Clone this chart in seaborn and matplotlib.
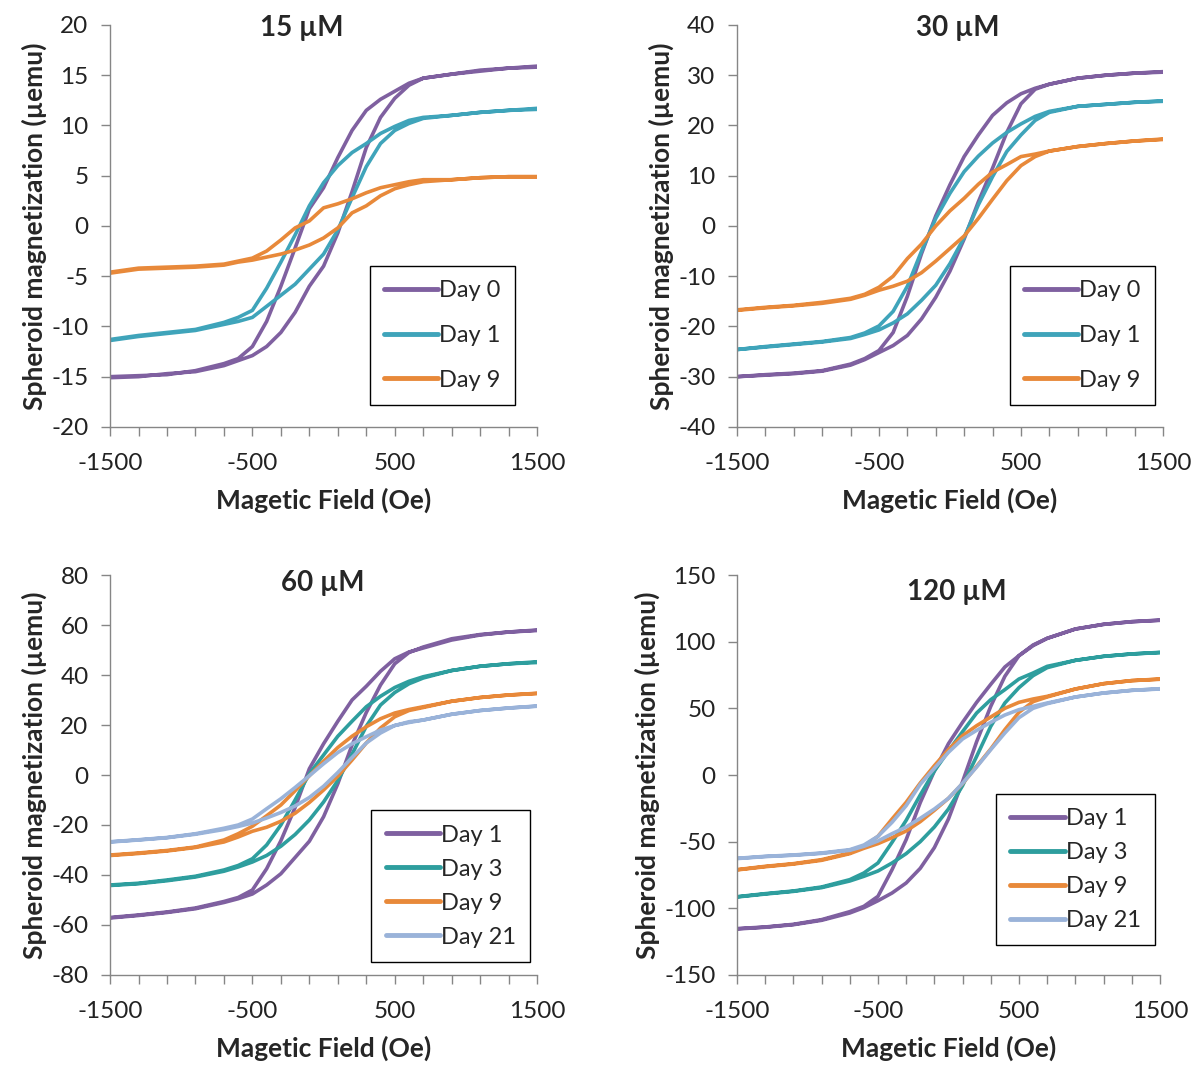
import numpy as np
import pandas as pd
import matplotlib.pyplot as plt
import seaborn as sns

# -------------------------------
# Data (read off the reference loops)
# lower = field sweeping up, upper = field sweeping down
# -------------------------------
field = [-1500, -1300, -1100, -900, -700, -600, -500, -400, -300, -200, -100, 0,
         100, 200, 300, 400, 500, 600, 700, 900, 1100, 1300, 1500]
x_labels = [-1500, -500, 500, 1500]

# 15 uM
days_15 = ["Day 0", "Day 1", "Day 9"]
c15_d0_lower = [-15.1, -15.0, -14.7, -14.5, -13.9, -13.4, -12.9, -12.0, -10.6, -8.6, -6.0, -4.0,
                -0.7, 3.4, 7.8, 10.8, 12.7, 14.0, 14.7, 15.1, 15.5, 15.7, 15.8]
c15_d0_upper = [-15.0, -14.9, -14.8, -14.4, -13.7, -13.2, -12.0, -9.5, -6.0, -2.2, 1.7, 3.8,
                6.8, 9.5, 11.5, 12.6, 13.4, 14.2, 14.7, 15.1, 15.4, 15.7, 15.9]
c15_d1_lower = [-11.4, -11.0, -10.7, -10.4, -9.8, -9.5, -9.1, -8.0, -6.9, -5.8, -4.3, -2.8,
                -0.4, 2.8, 5.9, 8.2, 9.5, 10.2, 10.7, 11.0, 11.3, 11.5, 11.6]
c15_d1_upper = [-11.3, -10.9, -10.6, -10.3, -9.6, -9.1, -8.4, -6.2, -3.6, -0.9, 2.0, 4.3,
                6.0, 7.3, 8.2, 9.2, 9.9, 10.5, 10.8, 11.0, 11.3, 11.5, 11.7]
c15_d9_lower = [-4.7, -4.3, -4.2, -4.1, -3.9, -3.6, -3.4, -3.1, -2.8, -2.4, -1.9, -1.2,
                -0.2, 1.3, 2.0, 3.0, 3.7, 4.1, 4.4, 4.6, 4.8, 4.9, 4.9]
c15_d9_upper = [-4.6, -4.2, -4.1, -4.0, -3.8, -3.5, -3.2, -2.5, -1.4, -0.2, 0.5, 1.8,
                2.2, 2.7, 3.3, 3.8, 4.1, 4.4, 4.6, 4.6, 4.8, 4.9, 4.9]

# 30 uM
days_30 = ["Day 0", "Day 1", "Day 9"]
c30_d0_lower = [-30.0, -29.7, -29.4, -28.9, -27.7, -26.6, -25.2, -23.8, -21.8, -18.5, -14.2, -9.0,
                -2.6, 4.8, 11.5, 18.6, 24.3, 27.2, 28.2, 29.4, 30.0, 30.4, 30.6]
c30_d0_upper = [-30.0, -29.6, -29.3, -28.8, -27.5, -26.4, -24.8, -21.2, -14.0, -5.5, 2.0, 8.2,
                13.8, 18.1, 22.0, 24.5, 26.3, 27.4, 28.2, 29.4, 30.0, 30.4, 30.7]
c30_d1_lower = [-24.6, -24.1, -23.6, -23.1, -22.4, -21.6, -20.7, -19.3, -17.5, -14.8, -11.8, -7.5,
                -2.3, 4.2, 9.8, 14.8, 18.1, 21.0, 22.6, 23.8, 24.2, 24.6, 24.8]
c30_d1_upper = [-24.6, -24.0, -23.5, -23.0, -22.2, -21.3, -19.9, -17.0, -12.0, -5.0, 1.5, 6.5,
                10.8, 13.9, 16.5, 18.6, 20.3, 21.8, 22.8, 23.8, 24.2, 24.6, 24.9]
c30_d9_lower = [-16.8, -16.3, -15.9, -15.4, -14.6, -13.8, -12.8, -12.0, -11.0, -9.3, -7.0, -4.5,
                -2.0, 1.5, 5.3, 9.0, 12.0, 13.8, 14.9, 15.8, 16.4, 16.9, 17.2]
c30_d9_upper = [-16.7, -16.2, -15.8, -15.2, -14.4, -13.6, -12.2, -10.0, -6.5, -3.6, 0.0, 3.0,
                5.5, 8.3, 10.7, 12.2, 13.8, 14.3, 14.9, 15.8, 16.4, 16.9, 17.3]

# 60 uM
days_60 = ["Day 1", "Day 3", "Day 9", "Day 21"]
c60_d1_lower = [-57.2, -56.2, -55.0, -53.5, -51.0, -49.5, -47.6, -44.0, -39.5, -33.0, -26.5, -16.7,
                -3.5, 12.0, 25.0, 36.0, 44.5, 49.0, 51.2, 54.5, 56.2, 57.2, 57.8]
c60_d1_upper = [-57.0, -56.0, -54.8, -53.2, -50.6, -49.0, -46.0, -37.5, -26.3, -13.0, 2.5, 12.5,
                21.5, 30.0, 35.5, 41.5, 46.5, 49.2, 50.8, 54.0, 56.0, 57.2, 58.0]
c60_d3_lower = [-44.2, -43.5, -42.3, -40.8, -38.5, -36.8, -34.8, -32.2, -28.5, -23.8, -18.0, -10.8,
                -2.2, 8.3, 19.5, 28.0, 33.0, 36.5, 38.8, 41.8, 43.5, 44.5, 45.0]
c60_d3_upper = [-44.0, -43.3, -42.0, -40.5, -38.0, -36.2, -33.5, -28.0, -20.0, -10.0, 0.5, 8.0,
                15.5, 21.5, 27.3, 31.5, 35.0, 37.5, 39.3, 41.8, 43.5, 44.5, 45.3]
c60_d9_lower = [-32.2, -31.4, -30.4, -29.0, -26.8, -24.8, -22.5, -20.9, -18.5, -15.3, -11.0, -6.0,
                -0.5, 6.0, 12.8, 18.8, 23.3, 25.8, 27.0, 29.5, 31.0, 32.0, 32.6]
c60_d9_upper = [-32.0, -31.2, -30.2, -28.8, -26.0, -23.5, -20.5, -16.3, -12.0, -6.3, -0.3, 5.5,
                11.0, 15.5, 19.3, 22.5, 24.8, 26.2, 27.3, 29.5, 31.0, 32.0, 32.7]
c60_d21_lower = [-26.8, -26.0, -25.1, -23.7, -21.8, -20.6, -19.2, -17.2, -15.0, -12.4, -9.0, -4.5,
                 1.0, 7.0, 12.8, 16.8, 19.8, 21.3, 22.0, 24.3, 25.8, 26.8, 27.5]
c60_d21_upper = [-26.7, -25.9, -25.0, -23.5, -21.3, -20.0, -17.6, -13.5, -9.5, -5.0, -0.3, 4.5,
                 9.0, 12.5, 15.3, 18.0, 19.8, 21.0, 22.0, 24.3, 25.8, 26.8, 27.6]

# 120 uM
days_120 = ["Day 1", "Day 3", "Day 9", "Day 21"]
c120_d1_lower = [-115.5, -114.2, -112.3, -109.0, -103.5, -99.5, -94.3, -88.5, -81.0, -70.0, -54.5, -33.0,
                 -5.0, 25.0, 51.5, 74.0, 89.5, 97.5, 102.5, 109.5, 113.0, 115.0, 116.0]
c120_d1_upper = [-115.2, -114.0, -112.0, -108.5, -102.5, -98.5, -91.0, -71.0, -48.5, -20.7, 3.0, 23.5,
                 39.5, 54.5, 68.0, 81.0, 89.5, 97.0, 102.5, 109.5, 113.0, 115.0, 116.2]
c120_d3_lower = [-91.5, -89.3, -87.3, -84.5, -79.5, -76.0, -72.0, -66.0, -59.0, -50.0, -39.0, -25.5,
                 -8.0, 14.0, 36.5, 54.0, 65.5, 74.5, 80.5, 86.0, 89.0, 90.8, 91.8]
c120_d3_upper = [-91.3, -89.0, -87.0, -84.0, -78.5, -73.5, -66.0, -50.5, -34.0, -15.0, 3.0, 18.0,
                 32.5, 46.5, 56.5, 64.0, 72.0, 76.5, 81.5, 86.0, 89.0, 90.8, 92.0]
c120_d9_lower = [-71.2, -68.8, -66.8, -64.0, -59.0, -55.0, -51.5, -47.0, -42.0, -35.0, -26.5, -17.5,
                 -6.5, 6.5, 19.5, 34.0, 47.0, 55.0, 58.5, 64.5, 68.5, 70.8, 71.8]
c120_d9_upper = [-71.0, -68.5, -66.5, -63.5, -58.5, -53.5, -46.0, -33.0, -20.5, -6.0, 7.0, 19.0,
                 29.5, 37.0, 43.5, 50.0, 54.5, 57.0, 59.0, 64.5, 68.5, 70.8, 72.0]
c120_d21_lower = [-62.7, -61.2, -60.2, -58.8, -56.5, -53.5, -49.5, -44.0, -39.0, -32.5, -25.5, -17.5,
                  -6.2, 6.0, 19.0, 31.5, 43.0, 50.0, 53.5, 58.5, 61.5, 63.5, 64.5]
c120_d21_upper = [-62.5, -61.0, -60.0, -58.5, -56.0, -52.5, -46.0, -35.5, -23.0, -7.0, 5.0, 17.0,
                  27.0, 33.5, 39.5, 45.0, 49.0, 51.5, 54.0, 58.5, 61.5, 63.5, 64.7]

# -------------------------------
# Style
# -------------------------------
purple = "#7F60A0"
cyan = "#3FA4BA"
teal = "#2E9E9E"
orange = "#E8893A"
lightblue = "#9AB3D9"

sns.set_theme(style="white")
plt.rcParams["font.family"] = ["Lato", "DejaVu Sans"]
plt.rcParams["axes.unicode_minus"] = False
axis_grey = "#868686"


def loop_frame(days, lowers, uppers):
    parts = []
    for day, lo, up in zip(days, lowers, uppers):
        parts.append(pd.DataFrame({
            "field": field + field[::-1],
            "moment": lo + up[::-1],
            "day": day,
        }))
    return pd.concat(parts, ignore_index=True)


panels = [
    dict(title="15 µM", days=days_15, colors=[purple, cyan, orange],
         lowers=[c15_d0_lower, c15_d1_lower, c15_d9_lower],
         uppers=[c15_d0_upper, c15_d1_upper, c15_d9_upper],
         ylim=(-20, 20), ystep=5,
         rect=[0.0914, 0.601, 0.3547, 0.3757], title_xy=(0.45, 0.993),
         leg_anchor=(0.948, 0.055), labelspacing=1.0),
    dict(title="30 µM", days=days_30, colors=[purple, cyan, orange],
         lowers=[c30_d0_lower, c30_d1_lower, c30_d9_lower],
         uppers=[c30_d0_upper, c30_d1_upper, c30_d9_upper],
         ylim=(-40, 40), ystep=10,
         rect=[0.6121, 0.601, 0.3538, 0.3757], title_xy=(0.519, 0.993),
         leg_anchor=(0.981, 0.055), labelspacing=1.0),
    dict(title="60 µM", days=days_60, colors=[purple, teal, orange, lightblue],
         lowers=[c60_d1_lower, c60_d3_lower, c60_d9_lower, c60_d21_lower],
         uppers=[c60_d1_upper, c60_d3_upper, c60_d9_upper, c60_d21_upper],
         ylim=(-80, 80), ystep=20,
         rect=[0.0914, 0.0888, 0.3547, 0.3738], title_xy=(0.497, 0.98),
         leg_anchor=(0.984, 0.033), labelspacing=0.55),
    dict(title="120 µM", days=days_120, colors=[purple, teal, orange, lightblue],
         lowers=[c120_d1_lower, c120_d3_lower, c120_d9_lower, c120_d21_lower],
         uppers=[c120_d1_upper, c120_d3_upper, c120_d9_upper, c120_d21_upper],
         ylim=(-150, 150), ystep=50,
         rect=[0.6121, 0.0888, 0.3513, 0.3738], title_xy=(0.52, 0.957),
         leg_anchor=(0.988, 0.075), labelspacing=0.55),
]

fig = plt.figure(figsize=(12.04, 10.70), dpi=100)

for p in panels:
    ax = fig.add_axes(p["rect"])
    df = loop_frame(p["days"], p["lowers"], p["uppers"])
    sns.lineplot(data=df, x="field", y="moment", hue="day", hue_order=p["days"],
                 palette=p["colors"], sort=False, estimator=None, lw=2.6, ax=ax)

    ax.set_xlim(-1500, 1500)
    ax.set_ylim(*p["ylim"])
    xt = list(range(-1500, 1501, 200))
    ax.set_xticks(xt)
    ax.set_xticklabels([str(v) if v in x_labels else "" for v in xt])
    yt = list(range(p["ylim"][0], p["ylim"][1] + 1, p["ystep"]))
    ax.set_yticks(yt)
    ax.set_yticklabels([str(v) for v in yt])
    ax.tick_params(axis="both", direction="out", length=6.5, width=1, color=axis_grey,
                   labelsize=17.5, labelcolor="#222222")
    ax.tick_params(axis="x", pad=12)
    ax.tick_params(axis="y", pad=9)
    ax.tick_params(left=True, bottom=True)

    sns.despine(ax=ax)
    for s in ("left", "bottom"):
        ax.spines[s].set_color(axis_grey)
        ax.spines[s].set_linewidth(1)

    ax.set_xlabel("Magetic Field (Oe)", fontsize=19, fontweight="bold", labelpad=10)
    ax.set_ylabel("Spheroid magnetization (µemu)", fontsize=19, fontweight="bold", labelpad=3)
    ax.text(*p["title_xy"], p["title"], transform=ax.transAxes, ha="center", va="center",
            fontsize=20, fontweight="bold")

    sns.move_legend(ax, "lower right", bbox_to_anchor=p["leg_anchor"], title=None,
                    frameon=True, fancybox=False, edgecolor="black", framealpha=1,
                    fontsize=17, handlelength=2.3, handletextpad=0.05,
                    labelspacing=p["labelspacing"], borderpad=0.6, borderaxespad=0)
    leg = ax.get_legend()
    leg.get_frame().set_linewidth(1)
    for line in leg.get_lines():
        line.set_linewidth(3.5)

fig.savefig("out.png", dpi=100)
